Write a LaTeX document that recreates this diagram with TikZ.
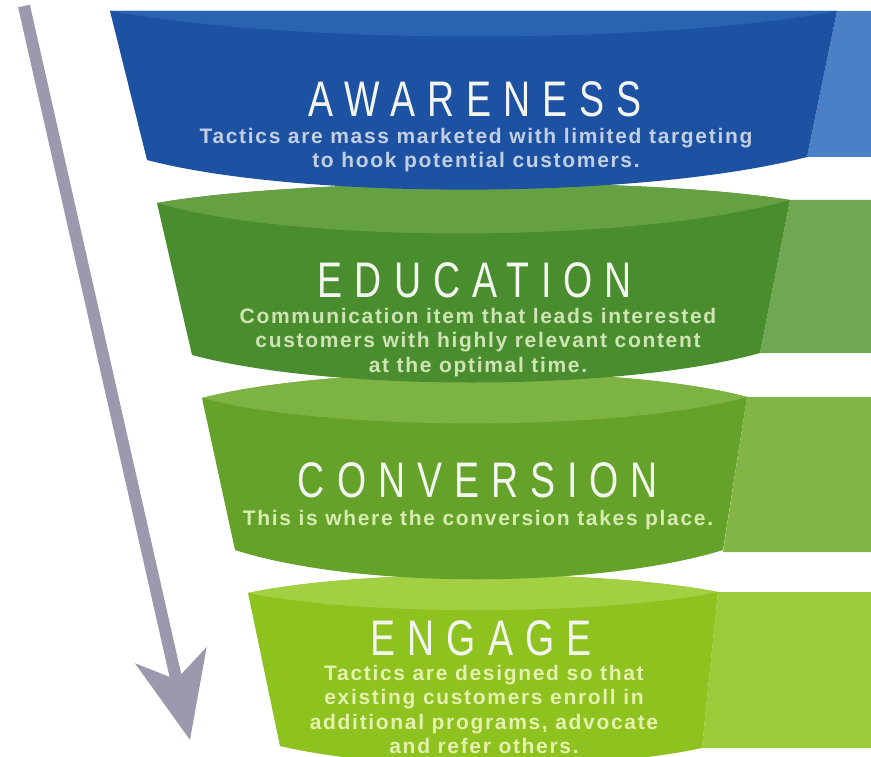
\documentclass[tikz,border=0pt]{standalone}
\usepackage{fontspec}
\setmainfont{Liberation Sans}
\newfontfamily\titlefont{Liberation Sans}[FakeStretch=0.75,LetterSpace=24]
\newfontfamily\subfont{Liberation Sans}[LetterSpace=8]
\usetikzlibrary{arrows.meta}
\definecolor{blueF}{HTML}{1D52A3}
\definecolor{blueT}{HTML}{2A63B0}
\definecolor{blueR}{HTML}{4A80C6}
\definecolor{eduF}{HTML}{4A8D2F}
\definecolor{eduT}{HTML}{65A043}
\definecolor{eduR}{HTML}{6FA752}
\definecolor{conF}{HTML}{64A229}
\definecolor{conT}{HTML}{7DB343}
\definecolor{conR}{HTML}{82B545}
\definecolor{engF}{HTML}{8DC21F}
\definecolor{engT}{HTML}{A3CF43}
\definecolor{engR}{HTML}{9CCB3A}
\definecolor{arrowgrey}{HTML}{9C98AE}
\definecolor{titlewhite}{HTML}{F3F6F0}
\definecolor{subblue}{HTML}{C3CFE0}
\definecolor{subedu}{HTML}{CFE3B5}
\definecolor{subcon}{HTML}{D8EBB0}
\definecolor{subeng}{HTML}{E6F0B0}
\tikzset{
  bandtitle/.style={font=\titlefont\fontsize{50}{50}\selectfont, text=titlewhite, inner sep=0pt, anchor=base},
  bandsub/.style={font=\subfont\bfseries\fontsize{21}{24.5}\selectfont, align=center, inner sep=0pt, anchor=north},
  flowarrow/.style={line width=12pt, draw=arrowgrey, -{Stealth[length=86pt,width=72pt,inset=24pt]}}
}
\begin{document}
\begin{tikzpicture}[x=1pt,y=-1pt]
\useasboundingbox (0,0) rectangle (871,757);
\fill[white] (0,0) rectangle (871,757);

% ENGAGE band
\fill[engR] (718,592) -- (871,592) -- (871,748) -- (702,748) -- cycle;
\fill[engF] (248,593) .. controls (360,569) and (600,569) .. (718,592) -- (702,748) .. controls (590,772) and (390,772) .. (280,746) -- cycle;
\fill[engT] (248,593) .. controls (360,569) and (600,569) .. (718,592) .. controls (600,616) and (360,616) .. (248,593) -- cycle;

% CONVERSION band
\fill[conR] (747,397) -- (871,397) -- (871,552) -- (723,552) -- cycle;
\fill[conF] (202,398) .. controls (330,365) and (620,363) .. (747,397) -- (723,550) .. controls (600,588) and (360,590) .. (235,550) -- cycle;
\fill[conT] (202,398) .. controls (330,365) and (620,363) .. (747,397) .. controls (620,432) and (330,432) .. (202,398) -- cycle;

% EDUCATION band
\fill[eduR] (790,200) -- (871,200) -- (871,353) -- (760,353) -- cycle;
\fill[eduF] (157,203) .. controls (300,178) and (640,176) .. (790,200) -- (760,353) .. controls (620,392) and (330,392) .. (192,355) -- cycle;
\fill[eduT] (157,203) .. controls (300,178) and (640,176) .. (790,200) .. controls (640,243) and (300,245) .. (157,203) -- cycle;

% AWARENESS band
\fill[blueR] (837,11) -- (871,11) -- (871,157) -- (807,157) -- cycle;
\fill[blueF] (110,11) -- (837,11) -- (807,157) .. controls (640,200) and (300,200) .. (147,160) -- cycle;
\fill[blueT] (110,11) -- (837,11) .. controls (650,45) and (300,45) .. (110,11) -- cycle;

% texts
\node[bandtitle] (awT) at (475,117) {AWARENESS};
\node[bandsub, text=subblue] (awS) at (476,128) {Tactics are mass marketed with limited targeting\\to hook potential customers.};

\node[bandtitle] (edT) at (475,297) {EDUCATION};
\node[bandsub, text=subedu] (edS) at (478,308) {Communication item that leads interested\\customers with highly relevant content\\at the optimal time.};

\node[bandtitle] (coT) at (478,497) {CONVERSION};
\node[bandsub, text=subcon] (coS) at (478,510) {This is where the conversion takes place.};

\node[bandtitle] (enT) at (481,655) {ENGAGE};
\node[bandsub, text=subeng] (enS) at (484,665) {Tactics are designed so that\\existing customers enroll in\\additional programs, advocate\\and refer others.};

% arrow
\coordinate (aS) at (24,6);
\coordinate (aT) at (190,740);
\draw[flowarrow] (aS) -- (aT);
\end{tikzpicture}
\end{document}
